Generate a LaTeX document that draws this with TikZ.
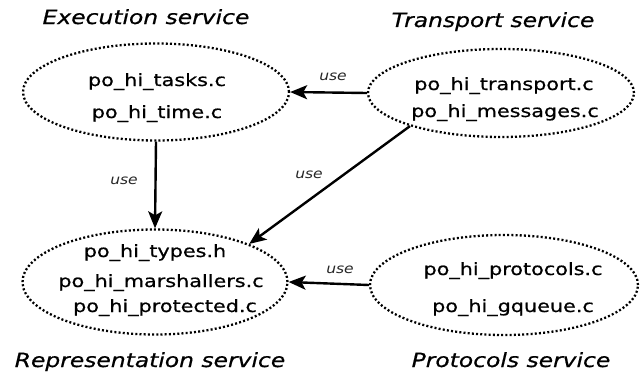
\documentclass[tikz,border=0pt]{standalone}
\usepackage{fontspec}
\setmainfont{DejaVu Sans}[FakeStretch=1.22,FakeBold=0.7]
\newfontfamily\obl{DejaVu Sans Oblique}[FakeStretch=1.2,FakeBold=0.7]
\newfontfamily\oblthin{DejaVu Sans Oblique}[FakeStretch=1.15]
\usetikzlibrary{shapes.geometric,arrows.meta}
\begin{document}
\begin{tikzpicture}[x=1pt,y=-1pt,
  svc/.style={ellipse,draw,line width=2.3pt,dash pattern=on 2pt off 2.2pt,inner sep=0pt},
  file/.style={anchor=base,inner sep=0pt,font=\fontsize{17}{20}\selectfont},
  title/.style={anchor=base,inner sep=0pt,font=\obl\fontsize{19.5}{22}\selectfont},
  uselbl/.style={inner sep=0pt,text=black!85,font=\oblthin\fontsize{13.5}{15}\selectfont},
  conn/.style={line width=2.4pt,-{Stealth[length=17pt,width=14pt,inset=4pt]}}]
\useasboundingbox (0,0) rectangle (641,372);
% ellipses
\node[svc,minimum width=266pt,minimum height=97pt] (exec) at (156,92) {};
\node[svc,minimum width=266pt,minimum height=88pt] (trans) at (501,93) {};
\node[svc,minimum width=265pt,minimum height=105pt] (repr) at (155,282) {};
\node[svc,minimum width=268pt,minimum height=100pt] (proto) at (504,285) {};
% titles
\node[title] (t1) at (146,24) {Execution service};
\node[title] (t2) at (493,27) {Transport service};
\node[title] (t3) at (150,367) {Representation service};
\node[title] (t4) at (511,367) {Protocols service};
% files
\node[file] (f1) at (157,86) {po\_hi\_tasks.c};
\node[file] (f2) at (157,118) {po\_hi\_time.c};
\node[file] (f3) at (504,90) {po\_hi\_transport.c};
\node[file] (f4) at (505,117) {po\_hi\_messages.c};
\node[file] (f5) at (155,257) {po\_hi\_types.h};
\node[file] (f6) at (161,287) {po\_hi\_marshallers.c};
\node[file] (f7) at (165,312) {po\_hi\_protected.c};
\node[file] (f8) at (513,275) {po\_hi\_protocols.c};
\node[file] (f9) at (513,312) {po\_hi\_gqueue.c};
% connectors
\draw[conn] (trans.west) -- (exec.east);
\draw[conn] (exec.south) -- (repr.north);
\draw[conn] (trans.200) -- (repr.22);
\draw[conn] (proto.west) -- (repr.east);
% labels
\node[uselbl] (u1) at (333,77) {use};
\node[uselbl] (u2) at (124,181) {use};
\node[uselbl] (u3) at (309,175) {use};
\node[uselbl] (u4) at (340,270) {use};
\end{tikzpicture}
\end{document}
